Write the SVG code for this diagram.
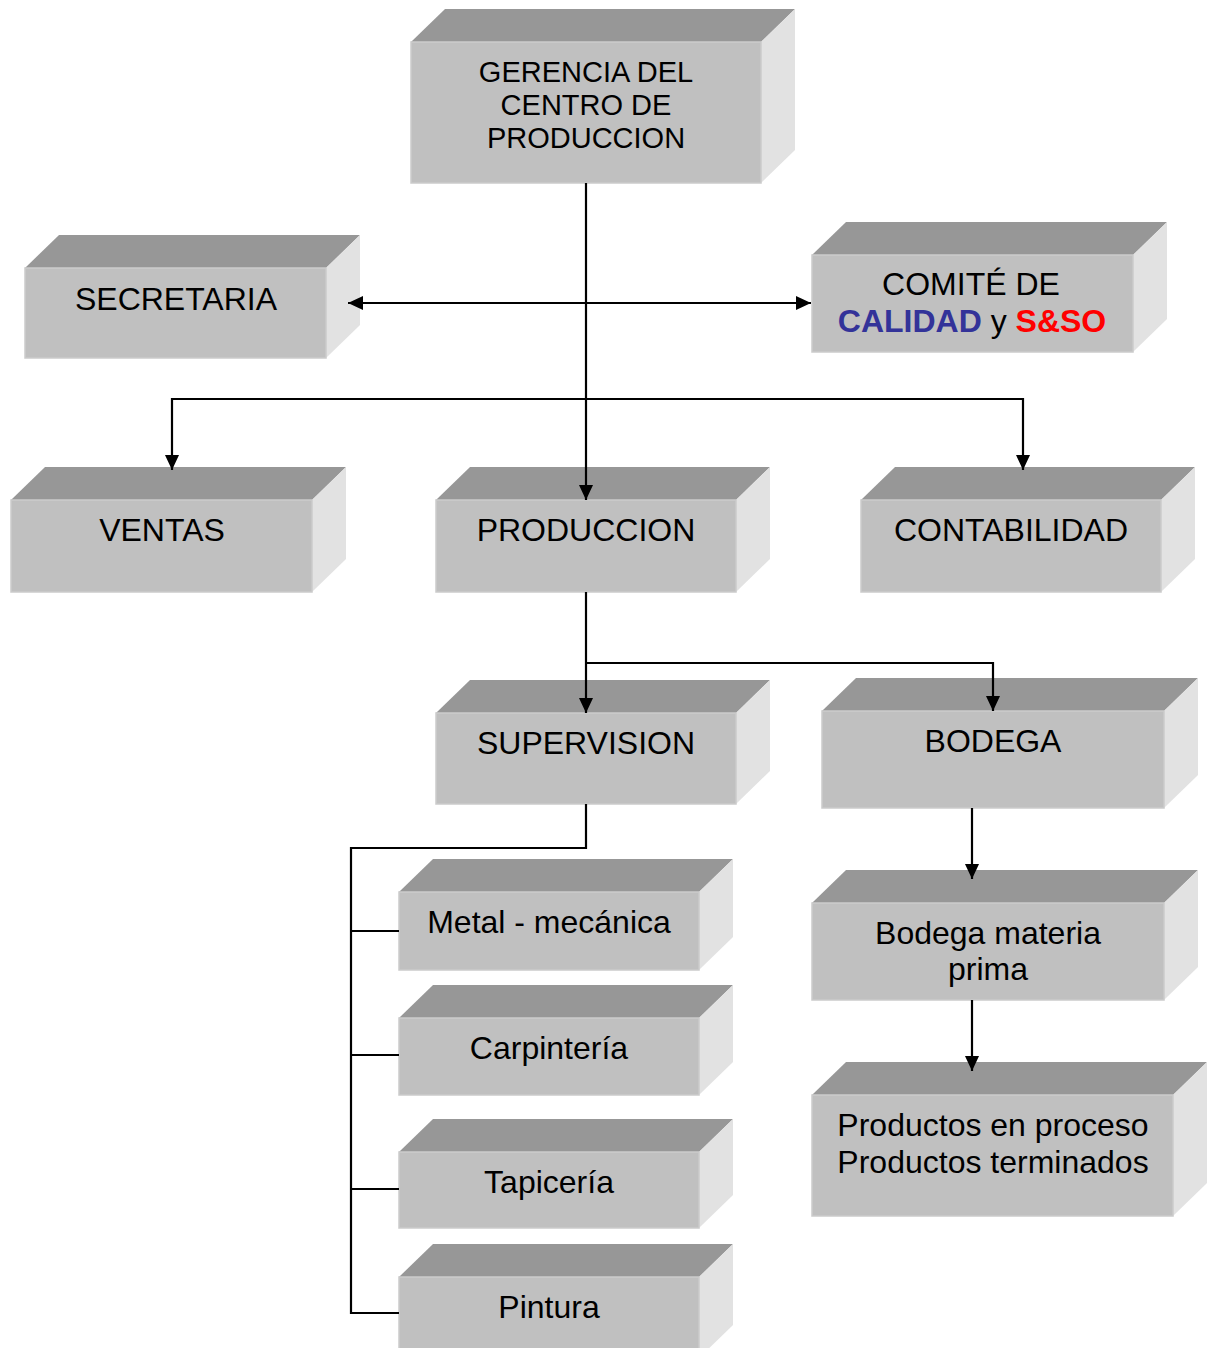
<svg xmlns="http://www.w3.org/2000/svg" width="1213" height="1348" viewBox="0 0 1213 1348">
<defs>
<style>
.top{fill:#979797}
.side{fill:#e2e2e2}
.front{fill:#c0c0c0;stroke:#cbcbcb;stroke-width:1.5}
.t{font-family:"Liberation Sans",Arial,sans-serif;font-size:32px;fill:#000;text-anchor:middle}
.g{font-size:29px}
.c{fill:none;stroke:#000;stroke-width:2.2}
</style>
<marker id="ah" markerWidth="15" markerHeight="14" refX="15" refY="7" orient="auto-start-reverse" markerUnits="userSpaceOnUse">
<path d="M0,0 L15,7 L0,14 Z" fill="#000"/>
</marker>
</defs>
<rect width="1213" height="1348" fill="#fff"/>

<g id="gerencia">
<polygon class="top" points="411,42 445,9 795,9 761,42"/>
<polygon class="side" points="761,42 795,9 795,150 761,183"/>
<rect class="front" x="411" y="42" width="350" height="141"/>
<text class="t g" x="586" y="82">GERENCIA DEL</text>
<text class="t g" x="586" y="115">CENTRO DE</text>
<text class="t g" x="586" y="148">PRODUCCION</text>
</g>

<g id="secretaria">
<polygon class="top" points="25,268 59,235 360,235 326,268"/>
<polygon class="side" points="326,268 360,235 360,325 326,358"/>
<rect class="front" x="25" y="268" width="301" height="90"/>
<text class="t" x="176" y="310">SECRETARIA</text>
</g>

<g id="comite">
<polygon class="top" points="812,255 846,222 1167,222 1133,255"/>
<polygon class="side" points="1133,255 1167,222 1167,319 1133,352"/>
<rect class="front" x="812" y="255" width="321" height="97"/>
<text class="t" x="971" y="295">COMITÉ DE</text>
<text class="t" x="972" y="332"><tspan font-weight="bold" fill="#333399">CALIDAD</tspan> y <tspan font-weight="bold" fill="#ff0000">S&amp;SO</tspan></text>
</g>

<g id="ventas">
<polygon class="top" points="11,500 45,467 346,467 312,500"/>
<polygon class="side" points="312,500 346,467 346,559 312,592"/>
<rect class="front" x="11" y="500" width="301" height="92"/>
<text class="t" x="162" y="541">VENTAS</text>
</g>

<g id="produccion">
<polygon class="top" points="436,500 470,467 770,467 736,500"/>
<polygon class="side" points="736,500 770,467 770,559 736,592"/>
<rect class="front" x="436" y="500" width="300" height="92"/>
<text class="t" x="586" y="541">PRODUCCION</text>
</g>

<g id="contabilidad">
<polygon class="top" points="861,500 895,467 1195,467 1161,500"/>
<polygon class="side" points="1161,500 1195,467 1195,559 1161,592"/>
<rect class="front" x="861" y="500" width="300" height="92"/>
<text class="t" x="1011" y="541">CONTABILIDAD</text>
</g>

<g id="supervision">
<polygon class="top" points="436,713 470,680 770,680 736,713"/>
<polygon class="side" points="736,713 770,680 770,771 736,804"/>
<rect class="front" x="436" y="713" width="300" height="91"/>
<text class="t" x="586" y="754">SUPERVISION</text>
</g>

<g id="bodega">
<polygon class="top" points="822,711 856,678 1198,678 1164,711"/>
<polygon class="side" points="1164,711 1198,678 1198,775 1164,808"/>
<rect class="front" x="822" y="711" width="342" height="97"/>
<text class="t" x="993" y="752">BODEGA</text>
</g>

<g id="bodega-mp">
<polygon class="top" points="812,903 846,870 1198,870 1164,903"/>
<polygon class="side" points="1164,903 1198,870 1198,967 1164,1000"/>
<rect class="front" x="812" y="903" width="352" height="97"/>
<text class="t" x="988" y="944">Bodega materia</text>
<text class="t" x="988" y="980">prima</text>
</g>

<g id="productos">
<polygon class="top" points="812,1095 846,1062 1207,1062 1173,1095"/>
<polygon class="side" points="1173,1095 1207,1062 1207,1183 1173,1216"/>
<rect class="front" x="812" y="1095" width="361" height="121"/>
<text class="t" x="993" y="1136">Productos en proceso</text>
<text class="t" x="993" y="1173">Productos terminados</text>
</g>

<g id="metal">
<polygon class="top" points="399,892 433,859 733,859 699,892"/>
<polygon class="side" points="699,892 733,859 733,937 699,970"/>
<rect class="front" x="399" y="892" width="300" height="78"/>
<text class="t" x="549" y="933">Metal - mecánica</text>
</g>

<g id="carpinteria">
<polygon class="top" points="399,1018 433,985 733,985 699,1018"/>
<polygon class="side" points="699,1018 733,985 733,1062 699,1095"/>
<rect class="front" x="399" y="1018" width="300" height="77"/>
<text class="t" x="549" y="1059">Carpintería</text>
</g>

<g id="tapiceria">
<polygon class="top" points="399,1152 433,1119 733,1119 699,1152"/>
<polygon class="side" points="699,1152 733,1119 733,1195 699,1228"/>
<rect class="front" x="399" y="1152" width="300" height="76"/>
<text class="t" x="549" y="1193">Tapicería</text>
</g>

<g id="pintura">
<polygon class="top" points="399,1277 433,1244 733,1244 699,1277"/>
<polygon class="side" points="699,1277 733,1244 733,1325 699,1358"/>
<rect class="front" x="399" y="1277" width="300" height="81"/>
<text class="t" x="549" y="1318">Pintura</text>
</g>

<g id="connectors">
<path class="c" d="M586,183 V500" marker-end="url(#ah)"/>
<path class="c" d="M348,303 H811" marker-start="url(#ah)" marker-end="url(#ah)"/>
<path class="c" d="M172,470 V399 H1023 V470" marker-start="url(#ah)" marker-end="url(#ah)"/>
<path class="c" d="M586,592 V713" marker-end="url(#ah)"/>
<path class="c" d="M586,663 H993 V711" marker-end="url(#ah)"/>
<path class="c" d="M972,808 V879" marker-end="url(#ah)"/>
<path class="c" d="M972,1000 V1071" marker-end="url(#ah)"/>
<path class="c" d="M586,804 V848 H351 V1314"/>
<path class="c" d="M351,931 H399 M351,1055 H399 M351,1189 H399 M351,1313 H399"/>
</g>
</svg>
